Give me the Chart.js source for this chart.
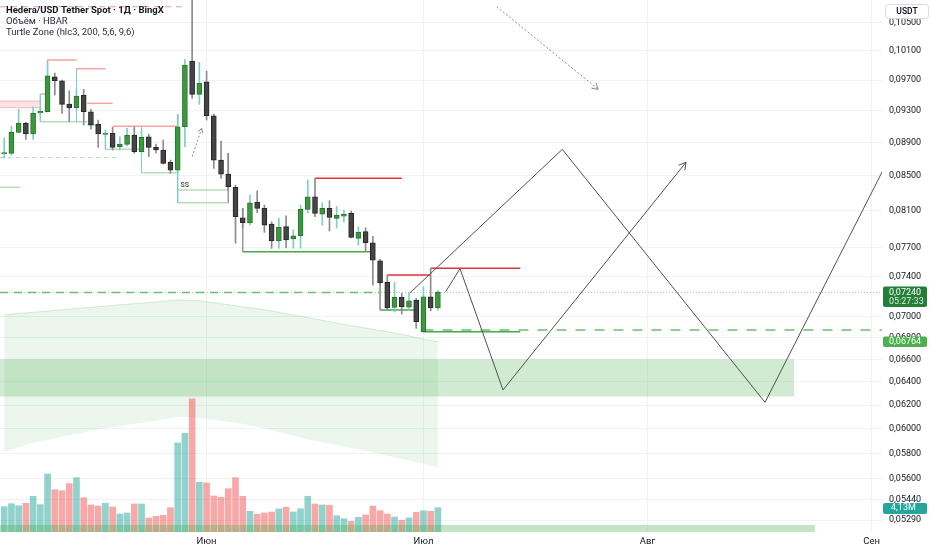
<!DOCTYPE html>
<html><head><meta charset="utf-8">
<script src="https://cdn.jsdelivr.net/npm/chart.js@4.4.1/dist/chart.umd.min.js"></script>
<style>html,body{margin:0;padding:0;background:#fff;overflow:hidden}#wrap{width:932px;height:550px}</style>
</head><body><div id="wrap"><canvas id="c" width="932" height="550"></canvas></div>
<script>
// ---- data (day index 0 = 4 May) ----
const opens  = [.08765,.08769,.09026,.09139,.09005,.09273,.09286,.09744,.09691,.09385,.09337,.09498,.09286,.09127,.09001,.09014,.08849,.08878,.08992,.08788,.08972,.08841,.08809,.08661,.08569,.09096,.09957,.09511,.09677,.09235,.08688,.08522,.08368,.08024,.07969,.08200,.08129,.07955,.07771,.07926,.07793,.07828,.08118,.08260,.08065,.08129,.08018,.08043,.08073,.07800,.07872,.07753,.07563,.07341,.07092,.07191,.07095,.07164,.06858,.07197,.07088];
const highs  = [.08956,.09105,.09317,.09152,.09350,.09334,.09971,.09794,.09700,.09559,.09568,.09577,.09317,.09181,.09055,.09089,.08972,.09076,.09096,.09055,.09005,.08882,.08931,.08688,.09253,.09981,.11200,.09939,.09821,.09257,.08919,.08769,.08394,.08129,.08280,.08326,.08166,.07980,.08018,.08046,.07890,.08166,.08452,.08472,.08192,.08215,.08150,.08110,.08099,.07926,.07915,.07822,.07580,.07415,.07341,.07231,.07237,.07181,.07297,.07484,.07264];
const lows   = [.08712,.08748,.09018,.08940,.08940,.09244,.09282,.09502,.09266,.09160,.09308,.09118,.09067,.08841,.08968,.08809,.08809,.08857,.08769,.08773,.08728,.08773,.08640,.08530,.08545,.08849,.09459,.09381,.09181,.08589,.08472,.08337,.07747,.07912,.07944,.08080,.07865,.07693,.07693,.07697,.07693,.07693,.08077,.08035,.07944,.07879,.07912,.07977,.07804,.07728,.07657,.07313,.07313,.07073,.07047,.07027,.07066,.06890,.06855,.07059,.07066];
const closes = [.08773,.09026,.09139,.09005,.09266,.09291,.09757,.09691,.09381,.09334,.09489,.09286,.09118,.09005,.09014,.08841,.08882,.08989,.08788,.08964,.08841,.08809,.08649,.08569,.09096,.09902,.09511,.09656,.09235,.08688,.08522,.08375,.08035,.07969,.08192,.08129,.07944,.07771,.07919,.07782,.07828,.08118,.08260,.08071,.08129,.08029,.08054,.08062,.07810,.07868,.07753,.07570,.07337,.07088,.07191,.07098,.07157,.06954,.07197,.07088,.07240];
const volumesM = [4.30,4.81,4.47,4.88,6.07,4.64,9.86,7.19,7.02,8.21,9.23,5.83,4.59,4.42,4.88,4.25,3.06,3.23,4.76,4.76,2.38,2.67,2.84,4.13,15.13,16.78,22.61,8.45,8.33,6.12,5.90,7.36,9.23,6.07,3.52,3.01,3.23,3.40,3.91,4.20,3.40,3.96,6.07,4.76,4.59,4.54,2.77,2.26,1.82,2.50,2.89,4.42,3.62,3.06,2.55,1.99,2.38,3.35,3.62,3.52,4.13];
const bandUpper = [.07021,.07027,.07033,.07039,.07045,.07050,.07056,.07062,.07069,.07075,.07081,.07087,.07093,.07099,.07105,.07111,.07117,.07123,.07129,.07134,.07140,.07146,.07152,.07158,.07164,.07163,.07160,.07157,.07148,.07138,.07129,.07119,.07109,.07099,.07088,.07079,.07069,.07057,.07044,.07031,.07018,.07005,.06993,.06980,.06967,.06954,.06941,.06930,.06917,.06905,.06893,.06881,.06869,.06858,.06846,.06834,.06820,.06803,.06789,.06777,.06764];
const bandLower = [.05811,.05829,.05848,.05867,.05885,.05897,.05910,.05922,.05934,.05946,.05960,.05971,.05984,.05996,.06006,.06014,.06023,.06031,.06041,.06050,.06058,.06068,.06078,.06088,.06098,.06100,.06094,.06088,.06081,.06074,.06066,.06059,.06051,.06041,.06028,.06015,.06002,.05988,.05973,.05958,.05943,.05928,.05913,.05901,.05889,.05878,.05867,.05855,.05844,.05833,.05821,.05808,.05795,.05782,.05769,.05756,.05744,.05731,.05718,.05705,.05692];
const monthTicks  = [28,58,89,120];
const monthLabels = ['Июн','Июл','Авг','Сен'];
const priceTicks  = [0.105,0.101,0.097,0.093,0.089,0.085,0.081,0.077,0.074,0.070,0.068,0.066,0.064,0.062,0.060,0.058,0.056,0.0544,0.0529];
const dayMin = -0.58, dayMax = 121.44, priceMin = 0.05205, priceMax = 0.10831, volMax = 90.4;
// [startDay, endDay, price]
const resistOld = [[5,6,0.09515],[6,10,0.09971],[10,14,0.09853],[11.5,15,0.09394],[15,24,0.09101]];
const resistNew = [[43,55,0.08472],[53,59,0.07415],[59,71.4,0.07484]];
const supportOld = [[-0.58,2.2,0.08368],[5,11.5,0.09160],[11.5,12.7,0.09114],[14,19,0.08817],[19,24,0.08537],[24,31,0.08337],[24,31,0.08192]];
const supportNew = [[33,51,0.07657],[52,57,0.07066],[58,71.4,0.06858]];
const supportDashed = [[-0.58,16,0.08716]];
const resistDashed = [[-0.58,25,0.10731]];
// [day, priceFrom, priceTo]
const edgesUp = [[5,0.09515,0.09160],[10,0.09853,0.09160],[14,0.09014,0.08817],[19,0.09105,0.08537],[24,0.09253,0.08192]];
const edgesDown = [[31,0.08769,0.08192],[33,0.08129,0.07657],[52,0.07337,0.07066]];
// [startDay, endDay, priceTop, priceBottom]
const pinkBand = [-0.58,5,0.09424,0.09337];
const demandZone = [-0.58,109.27,0.06603,0.06272];
const baseStrip = [-0.58,112.18,0.05256];
const lastPrice = 0.0724, lastBand = 0.06764, lastVolume = 4.13, stopLevel = 0.06874;
const pathA = [[56.14,0.07235],[77.21,0.08817],[105.26,0.06223],[121.54,0.08561]];
const pathB = [[61.08,0.07248],[63.06,0.07481],[69.01,0.06330],[94.33,0.08661]];
const headB = [[93.29,0.08626],[94.33,0.08661],[94.16,0.08567]];
const dotArrow1 = [[26.0,0.08728],[27.32,0.09076]];
const dotHead1 = [[26.81,0.09035],[27.32,0.09076],[27.46,0.09015]];
const dotArrow2 = [[68.14,0.10731],[82.19,0.09577]];
const dotHead2 = [[81.85,0.09663],[82.19,0.09577],[81.24,0.09592]];
const ssLabel = [24.4, 0.08390, 'SS'];
const titleText = 'Hedera/USD Tether Spot · 1Д · BingX';
const volText = 'Объём · HBAR';
const indText = 'Turtle Zone (hlc3, 200, 5,6, 9,6)';

// ---- build datasets ----
const days = opens.map((_, i) => i);
const isUp = days.map(i => closes[i] >= opens[i]);
const pts = arr => arr.map(p => ({x: p[0], y: p[1]}));
function seg(x0, x1, y, color, width, dash, order) {
  return {type:'line', data:[{x:x0,y:y},{x:x1,y:y}], borderColor:color, borderWidth:width, borderDash:dash||[], pointRadius:0, fill:false, order:order};
}
function vseg(x, y0, y1, color, order) {
  return {type:'line', data:[{x:x,y:y0},{x:x,y:y1}], borderColor:color, borderWidth:1, pointRadius:0, fill:false, order:order};
}
function poly(arr, color, width, dash, order) {
  return {type:'line', data:pts(arr), borderColor:color, borderWidth:width, borderDash:dash||[], pointRadius:0, fill:false, order:order};
}
const ds = [];
ds.push({type:'line', data:[{x:demandZone[0],y:demandZone[2]},{x:demandZone[1],y:demandZone[2]}], borderWidth:0, pointRadius:0,
  fill:{value:demandZone[3]}, backgroundColor:'rgba(76,175,80,0.26)', order:100});
ds.push({type:'line', data:days.map(i=>({x:i,y:bandUpper[i]})), borderColor:'rgba(76,175,80,0.22)', borderWidth:1, pointRadius:0,
  fill:'+1', backgroundColor:'rgba(76,175,80,0.11)', order:98});
ds.push({type:'line', data:days.map(i=>({x:i,y:bandLower[i]})), borderWidth:0, pointRadius:0, fill:false, order:97});
ds.push({type:'bar', yAxisID:'y2', data:days.map(i=>({x:i,y:volumesM[i]})), barThickness:6, grouped:false,
  backgroundColor:days.map(i=>isUp[i]?'rgba(38,166,154,0.5)':'rgba(239,83,80,0.5)'), order:90});
ds.push({type:'line', data:[{x:baseStrip[0],y:baseStrip[2]},{x:baseStrip[1],y:baseStrip[2]}], borderWidth:0, pointRadius:0,
  fill:'start', backgroundColor:'rgba(76,175,80,0.33)', order:85});
ds.push({type:'line', data:[{x:pinkBand[0],y:pinkBand[2]},{x:pinkBand[1],y:pinkBand[2]}], borderColor:'rgba(242,54,69,0.3)', borderWidth:1, pointRadius:0,
  fill:{value:pinkBand[3]}, backgroundColor:'rgba(242,54,69,0.14)', order:70});
ds.push(seg(pinkBand[0], pinkBand[1], pinkBand[3], 'rgba(242,54,69,0.3)', 1, [], 70));
resistOld.forEach(r => ds.push(seg(r[0], r[1], r[2], '#f5a3a3', 1.5, [], 60)));
resistNew.forEach(r => ds.push(seg(r[0], r[1], r[2], '#e0323c', 1.5, [], 60)));
supportOld.forEach(r => ds.push(seg(r[0], r[1], r[2], '#b7ddb8', 1.5, [], 60)));
supportNew.forEach(r => ds.push(seg(r[0], r[1], r[2], '#47a84b', 1.5, [], 60)));
supportDashed.forEach(r => ds.push(seg(r[0], r[1], r[2], '#a8d8aa', 1, [4,4], 60)));
resistDashed.forEach(r => ds.push(seg(r[0], r[1], r[2], '#f29a9a', 1.2, [6,5], 60)));
edgesUp.forEach(e => ds.push(vseg(e[0], e[1], e[2], '#80cfc4', 59)));
edgesDown.forEach(e => ds.push(vseg(e[0], e[1], e[2], '#9a9a9a', 59)));
ds.push(seg(dayMin, dayMax, lastPrice, '#8fd19a', 1, [1,2], 55));
ds.push(seg(dayMin, 52, lastPrice, '#6cbf72', 1.5, [8,6], 54));
ds.push(seg(58, dayMax, stopLevel, '#6cbf72', 1.5, [10,9], 54));
ds.push({type:'bar', data:days.map(i=>({x:i,y:[lows[i],highs[i]]})), barThickness:1, grouped:false,
  backgroundColor:days.map(i=>isUp[i]?'#7fcfc2':'#8c8c8c'), order:20});
ds.push({type:'bar', data:days.map(i=>({x:i,y:[opens[i],closes[i]]})), barThickness:5, grouped:false, minBarLength:1,
  backgroundColor:days.map(i=>isUp[i]?'#389a3d':'#454545'), borderColor:days.map(i=>isUp[i]?'#2a732e':'#262626'),
  borderWidth:1, borderSkipped:false, order:10});
ds.push(poly(pathA, '#505050', 1, [], 5));
ds.push(poly(pathB, '#505050', 1, [], 5));
ds.push(poly(headB, '#505050', 1, [], 5));
ds.push(poly(dotArrow1, '#8a8a8a', 1, [2,2], 4));
ds.push(poly(dotHead1, '#8a8a8a', 1, [], 4));
ds.push(poly(dotArrow2, '#8a8a8a', 1, [2,2], 4));
ds.push(poly(dotHead2, '#8a8a8a', 1, [], 4));

const fmt = v => v.toFixed(5).replace('.', ',');
const overlay = {
  id: 'overlay',
  afterDraw(chart) {
    const ctx = chart.ctx, xs = chart.scales.x, ys = chart.scales.y, y2 = chart.scales.y2;
    ctx.save();
    ctx.textBaseline = 'middle'; ctx.textAlign = 'left';
    ctx.fillStyle = '#131722'; ctx.font = 'bold 9.5px Roboto';
    ctx.fillText(titleText, 6, 11);
    ctx.font = '9.5px Roboto'; ctx.fillStyle = '#2a2e39';
    ctx.fillText(volText, 6, 21.5);
    ctx.fillText(indText, 6, 32.5);
    ctx.font = 'bold 7px Roboto'; ctx.fillStyle = '#555';
    ctx.fillText(ssLabel[2], xs.getPixelForValue(ssLabel[0]), ys.getPixelForValue(ssLabel[1]));
    const L = chart.chartArea.right + 1;
    function box(top, h, bg) { ctx.fillStyle = bg; ctx.beginPath(); ctx.roundRect(L, top, 44, h, 2); ctx.fill(); }
    ctx.font = '9px Roboto';
    let py = ys.getPixelForValue(lastPrice);
    box(py - 6, 20.6, '#237f37');
    ctx.fillStyle = '#fff'; ctx.fillText(fmt(lastPrice), 889, py);
    ctx.fillStyle = '#d9eedc'; ctx.fillText('05:27:33', 889, py + 9.5);
    py = ys.getPixelForValue(lastBand);
    box(py - 5.3, 10.6, '#4caf50');
    ctx.fillStyle = '#fff'; ctx.fillText(fmt(lastBand), 889, py);
    py = y2.getPixelForValue(lastVolume);
    box(py - 4.6, 10.8, '#26a69a');
    ctx.fillStyle = '#fff'; ctx.fillText('4,13M', 891, py + 0.5);
    ctx.fillStyle = '#fff'; ctx.strokeStyle = '#d8dbe2'; ctx.lineWidth = 1;
    ctx.beginPath(); ctx.roundRect(885.5, 4.5, 43, 14, 3); ctx.fill(); ctx.stroke();
    ctx.fillStyle = '#131722'; ctx.font = '600 8.5px Roboto'; ctx.textAlign = 'center';
    ctx.fillText('USDT', 907, 11.8);
    ctx.restore();
  }
};

new Chart(document.getElementById('c'), {
  type: 'line',
  data: { datasets: ds },
  options: {
    responsive: false, animation: false, events: [],
    layout: { padding: 0 },
    plugins: { legend: { display: false }, tooltip: { enabled: false } },
    scales: {
      x: { type: 'linear', min: dayMin, max: dayMax, offset: false,
        afterBuildTicks: s => { s.ticks = monthTicks.map(v => ({ value: v })); },
        ticks: { callback: (v, i) => monthLabels[i], autoSkip: false, maxRotation: 0, color: '#131722', font: { family: 'Roboto', size: 9.5 }, padding: 4 },
        grid: { color: '#f0f2f6', drawTicks: false, offset: false }, border: { display: false },
        afterFit: s => { s.height = 18; s.paddingLeft = 0; s.paddingRight = 0; } },
      y: { type: 'logarithmic', position: 'right', min: priceMin, max: priceMax,
        afterBuildTicks: s => { s.ticks = priceTicks.map(v => ({ value: v })); },
        ticks: { callback: v => fmt(v), autoSkip: false, color: '#131722', font: { family: 'Roboto', size: 9 }, padding: 7 },
        grid: { color: '#f0f2f6', drawTicks: false }, border: { display: false },
        afterFit: s => { s.width = 50; s.paddingTop = 0; s.paddingBottom = 0; } },
      y2: { type: 'linear', display: false, min: 0, max: volMax,
        afterFit: s => { s.paddingTop = 0; s.paddingBottom = 0; } }
    }
  },
  plugins: [overlay]
});
</script>
</body></html>
